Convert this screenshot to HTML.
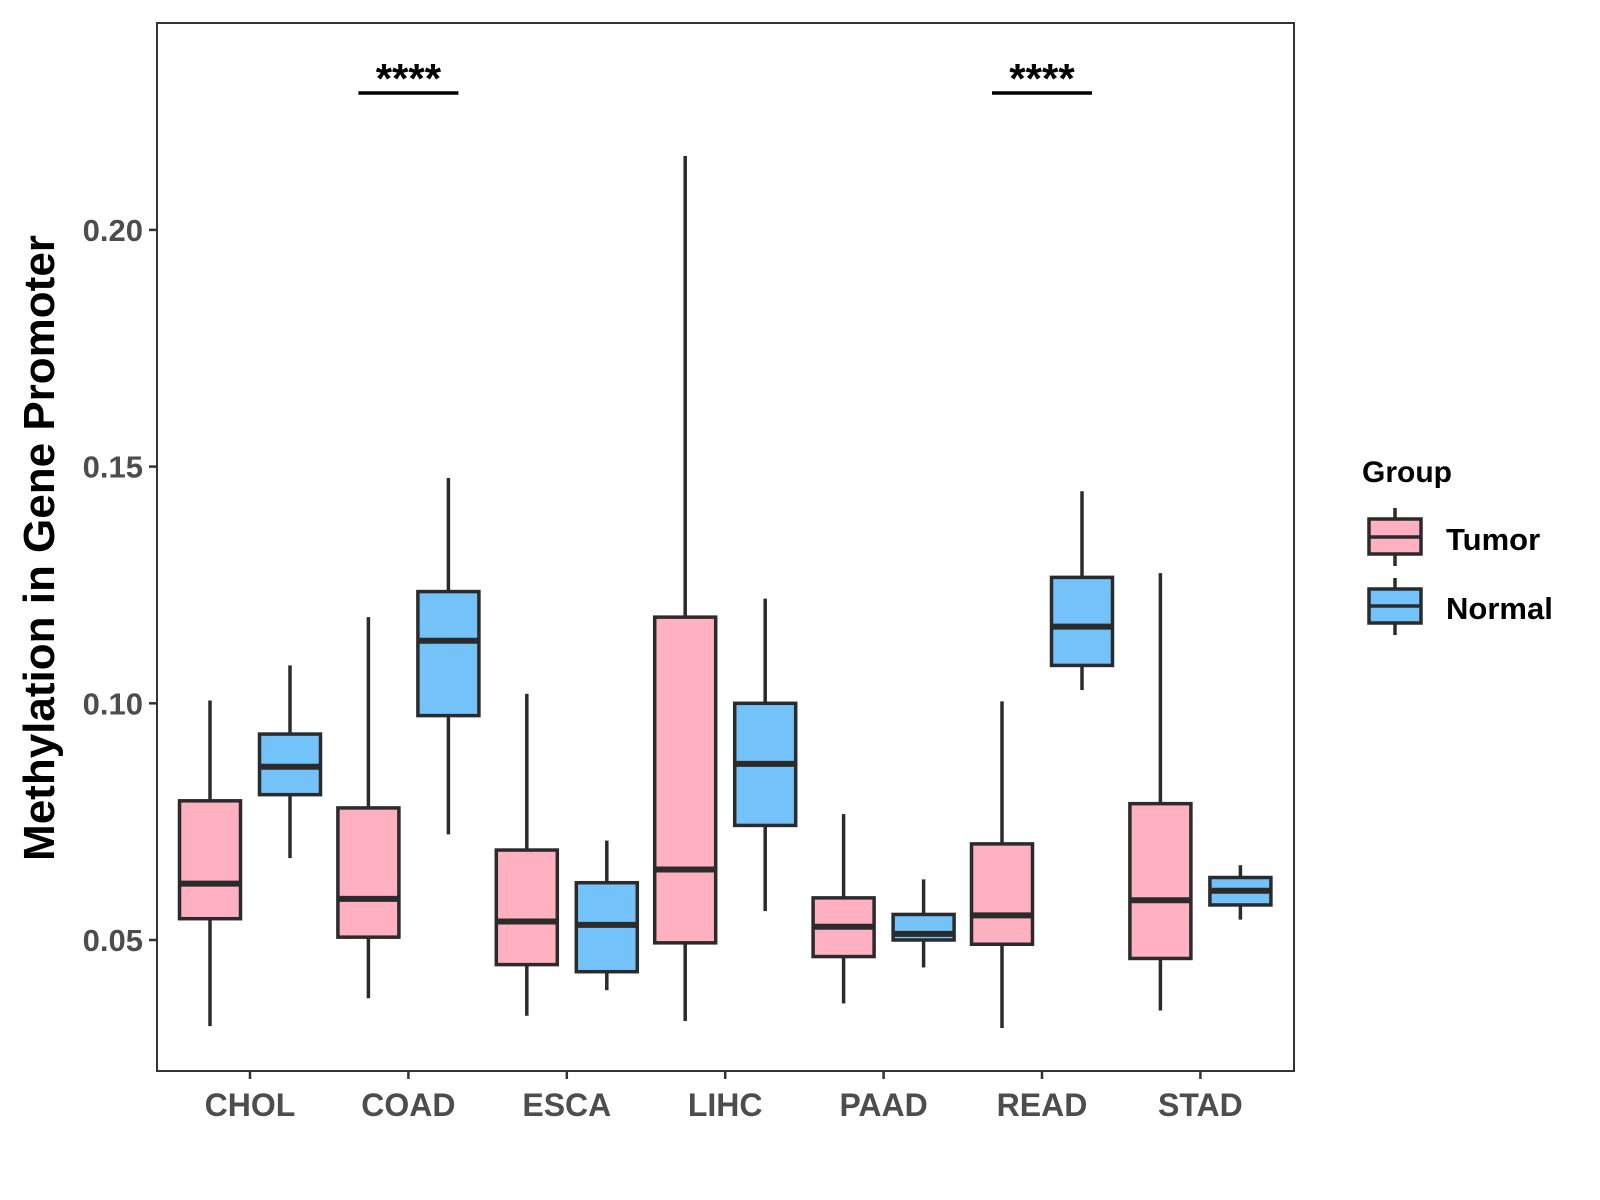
<!DOCTYPE html>
<html><head><meta charset="utf-8"><style>
html,body{margin:0;padding:0;background:#fff;}
svg{display:block;font-family:"Liberation Sans",Arial,sans-serif;}
</style></head><body>
<svg id="chart" width="1600" height="1200" viewBox="0 0 1600 1200" xmlns="http://www.w3.org/2000/svg">
<rect x="0" y="0" width="1600" height="1200" fill="#fff"/>
<g id="plot"></g>
<text transform="translate(54,548) rotate(-90)" text-anchor="middle" font-size="44" font-weight="bold" fill="#000">Methylation in Gene Promoter</text>
<g>
<text x="1362" y="482" font-size="30" font-weight="bold" fill="#000">Group</text>
<g>
<line x1="1395" y1="508" x2="1395" y2="566" stroke="#2b2b2b" stroke-width="3.5"/>
<rect x="1369" y="519" width="52" height="35" fill="#FFB0C1" stroke="#2b2b2b" stroke-width="3.5"/>
<line x1="1369" y1="537" x2="1421" y2="537" stroke="#2b2b2b" stroke-width="3.5"/>
<text x="1446" y="550" font-size="31" font-weight="bold" fill="#000">Tumor</text>
</g>
<g>
<line x1="1395" y1="578" x2="1395" y2="635" stroke="#2b2b2b" stroke-width="3.5"/>
<rect x="1369" y="589" width="52" height="34" fill="#73C2FA" stroke="#2b2b2b" stroke-width="3.5"/>
<line x1="1369" y1="606" x2="1421" y2="606" stroke="#2b2b2b" stroke-width="3.5"/>
<text x="1446" y="619" font-size="31" font-weight="bold" fill="#000">Normal</text>
</g>
</g>
</svg>
<script>
const categories = ["CHOL","COAD","ESCA","LIHC","PAAD","READ","STAD"];
const tumorLow = [0.0318,0.0377,0.034,0.0329,0.0366,0.0314,0.0351];
const tumorQ1 = [0.0545,0.0506,0.0448,0.0494,0.0465,0.0491,0.0461];
const tumorMed = [0.0619,0.0587,0.0539,0.0649,0.0528,0.0552,0.0584];
const tumorQ3 = [0.0794,0.0779,0.069,0.1182,0.0589,0.0703,0.0788];
const tumorHigh = [0.1006,0.1182,0.102,0.2156,0.0766,0.1004,0.1275];
const normalLow = [0.0673,0.0723,0.0394,0.0561,0.0442,0.1028,0.0543];
const normalQ1 = [0.0807,0.0974,0.0433,0.0742,0.05,0.108,0.0574];
const normalMed = [0.0866,0.1132,0.0532,0.0872,0.0513,0.1162,0.0604];
const normalQ3 = [0.0935,0.1236,0.0621,0.1,0.0554,0.1266,0.0632];
const normalHigh = [0.108,0.1476,0.071,0.1221,0.0628,0.1448,0.0658];
const yTicks = [0.05,0.10,0.15,0.20];
const yTickLabels = ["0.05","0.10","0.15","0.20"];
const sigCategories = ["COAD","READ"];
const sigLabels = ["****","****"];

const NS="http://www.w3.org/2000/svg";
const P={l:157,r:1294,t:23,b:1071};
function y(v){return 940-(v-0.05)/0.05*236.7;}
function x(i){return 250+i*158.4;}
const g=document.getElementById('plot');
function mk(tag,attrs,parent){const e=document.createElementNS(NS,tag);for(const k in attrs)e.setAttribute(k,attrs[k]);(parent||g).appendChild(e);return e;}
const panel=mk('rect',{x:P.l,y:P.t,width:P.r-P.l,height:P.b-P.t,fill:'none',stroke:'#333',"stroke-width":2});


yTicks.forEach((v,i)=>{
  const t=mk('line',{x1:P.l-8,x2:P.l,y1:y(v),y2:y(v),stroke:'#333',"stroke-width":2.5});
  
  
  const l=mk('text',{x:P.l-14,y:y(v)+11,"text-anchor":'end',"font-size":31,"font-weight":'bold',fill:'#4d4d4d'});
  l.textContent=yTickLabels[i];
  
  
});
categories.forEach((c,i)=>{
  const t=mk('line',{x1:x(i),x2:x(i),y1:P.b,y2:P.b+8,stroke:'#333',"stroke-width":2.5});
  
  
  const l=mk('text',{x:x(i),y:P.b+45,"text-anchor":'middle',"font-size":32,"font-weight":'bold',fill:'#4d4d4d'});
  l.textContent=c;
  
  
});
function box(cx,lo,q1,md,q3,hi,fill,name){
  const grp=mk('g',{});
  
  
  const w=61;
  mk('line',{x1:cx,x2:cx,y1:y(hi),y2:y(q3),stroke:'#2b2b2b',"stroke-width":3.5},grp);
  mk('line',{x1:cx,x2:cx,y1:y(q1),y2:y(lo),stroke:'#2b2b2b',"stroke-width":3.5},grp);
  mk('rect',{x:cx-w/2,y:y(q3),width:w,height:y(q1)-y(q3),fill:fill,stroke:'#2b2b2b',"stroke-width":3.5},grp);
  mk('line',{x1:cx-w/2,x2:cx+w/2,y1:y(md),y2:y(md),stroke:'#2b2b2b',"stroke-width":6},grp);
}
categories.forEach((c,i)=>{
  box(x(i)-40,tumorLow[i],tumorQ1[i],tumorMed[i],tumorQ3[i],tumorHigh[i],'#FFB0C1','box-tumor-'+c.toLowerCase());
  box(x(i)+40,normalLow[i],normalQ1[i],normalMed[i],normalQ3[i],normalHigh[i],'#73C2FA','box-normal-'+c.toLowerCase());
});
sigCategories.forEach((c,k)=>{
  const i=categories.indexOf(c);
  const b=mk('line',{x1:x(i)-50,x2:x(i)+50,y1:93,y2:93,stroke:'#000',"stroke-width":3.5});
  
  
  const t=mk('text',{x:x(i),y:93,"text-anchor":'middle',"font-size":42,"font-weight":'bold',fill:'#000'});
  t.textContent=sigLabels[k];
  
  
});
</script>
</body></html>
